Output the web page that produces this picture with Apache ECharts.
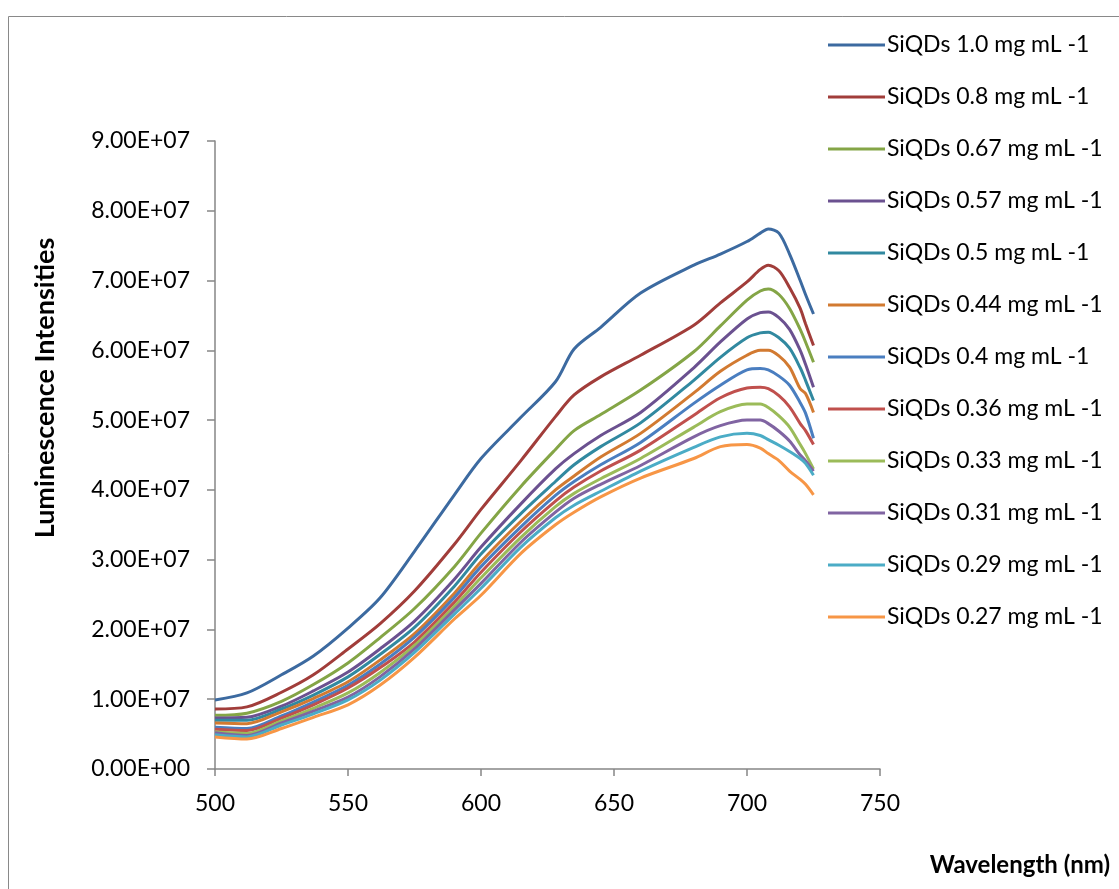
<!DOCTYPE html>
<html>
<head>
<meta charset="utf-8">
<script src="https://cdn.jsdelivr.net/npm/echarts@6/dist/echarts.min.js"></script>
<style>
html,body{margin:0;padding:0;background:#fff;}
#chart{width:1119px;height:889px;}
</style>
</head>
<body>
<div id="chart"></div>
<script>
// Wavelengths (nm)
const wavelengths = [500,512,525,537,550,562,575,590,600,615,628,635,645,660,680,690,700,705,708,712,716,720,722,725];
// Intensities in units of 1e7
const UNIT = 1e7;
const s10  = [0.99,1.09,1.35,1.62,2.02,2.45,3.12,3.93,4.45,5.04,5.55,6.02,6.33,6.82,7.22,7.38,7.56,7.68,7.74,7.68,7.38,7.00,6.80,6.52];
const s08  = [0.86,0.89,1.10,1.35,1.72,2.08,2.55,3.22,3.72,4.42,5.05,5.36,5.62,5.93,6.36,6.68,6.98,7.16,7.22,7.14,6.90,6.60,6.38,6.07];
const s067 = [0.77,0.80,0.97,1.21,1.52,1.88,2.30,2.90,3.38,4.05,4.58,4.85,5.08,5.43,5.98,6.35,6.72,6.85,6.88,6.80,6.60,6.30,6.12,5.83];
const s057 = [0.73,0.74,0.90,1.12,1.39,1.72,2.12,2.72,3.18,3.80,4.30,4.52,4.78,5.11,5.75,6.12,6.45,6.54,6.55,6.47,6.30,6.00,5.80,5.47];
const s05  = [0.70,0.70,0.86,1.06,1.32,1.64,2.03,2.62,3.08,3.66,4.12,4.36,4.62,4.96,5.57,5.90,6.18,6.25,6.26,6.18,6.03,5.75,5.57,5.28];
const s044 = [0.66,0.65,0.82,1.01,1.25,1.56,1.94,2.52,2.97,3.55,4.00,4.20,4.47,4.81,5.39,5.70,5.93,6.00,6.00,5.92,5.76,5.45,5.38,5.11];
const s04  = [0.60,0.58,0.76,0.96,1.20,1.50,1.89,2.46,2.90,3.47,3.92,4.12,4.36,4.68,5.24,5.50,5.72,5.74,5.72,5.63,5.50,5.25,5.10,4.74];
const s036 = [0.57,0.55,0.73,0.92,1.16,1.45,1.82,2.39,2.82,3.40,3.84,4.04,4.27,4.57,5.07,5.32,5.46,5.47,5.45,5.35,5.19,4.95,4.85,4.65];
const s033 = [0.53,0.51,0.69,0.87,1.09,1.38,1.77,2.33,2.74,3.32,3.76,3.95,4.16,4.45,4.90,5.12,5.23,5.23,5.18,5.06,4.90,4.65,4.52,4.30];
const s031 = [0.52,0.48,0.66,0.83,1.03,1.32,1.72,2.28,2.66,3.25,3.68,3.88,4.08,4.35,4.76,4.92,5.00,5.00,4.95,4.84,4.70,4.50,4.42,4.27];
const s029 = [0.49,0.46,0.63,0.79,0.99,1.27,1.67,2.22,2.59,3.18,3.60,3.78,3.98,4.27,4.61,4.76,4.81,4.78,4.72,4.64,4.55,4.45,4.38,4.21];
const s027 = [0.46,0.43,0.58,0.74,0.92,1.20,1.60,2.15,2.49,3.09,3.50,3.68,3.90,4.17,4.45,4.62,4.65,4.60,4.52,4.42,4.27,4.15,4.08,3.93];

const seriesNames = ['SiQDs 1.0 mg mL -1','SiQDs 0.8 mg mL -1','SiQDs 0.67 mg mL -1','SiQDs 0.57 mg mL -1','SiQDs 0.5 mg mL -1','SiQDs 0.44 mg mL -1','SiQDs 0.4 mg mL -1','SiQDs 0.36 mg mL -1','SiQDs 0.33 mg mL -1','SiQDs 0.31 mg mL -1','SiQDs 0.29 mg mL -1','SiQDs 0.27 mg mL -1'];
const seriesValues = [s10,s08,s067,s057,s05,s044,s04,s036,s033,s031,s029,s027];
const colors = ['#3C6AA0','#A13D3A','#84A546','#6B5190','#3189A0','#D27A31','#4A7EC0','#C0504D','#9BBB59','#8064A2','#4BACC6','#F79646'];

function sci(v){
  if (v === 0) return '0.00E+00';
  const e = Math.floor(Math.log10(Math.abs(v)) + 1e-9);
  const m = v / Math.pow(10, e);
  const es = (e < 0 ? '-' : '+') + String(Math.abs(e)).padStart(2,'0');
  return m.toFixed(2) + 'E' + es;
}

const FONT = 'Lato';
const chart = echarts.init(document.getElementById('chart'), null, {renderer:'canvas'});
const series = seriesNames.map((name, i) => ({
  name: name,
  type: 'line',
  smooth: 0.3,
  symbol: 'none',
  lineStyle: {width: 3, color: colors[i]},
  itemStyle: {color: colors[i]},
  data: wavelengths.map((w, k) => [w, seriesValues[i][k] * UNIT]),
  animation: false
}));

chart.setOption({
  animation: false,
  color: colors,
  grid: {left: 215, right: 239, top: 141, bottom: 120, containLabel: false},
  xAxis: {
    type: 'value', min: 500, max: 750, interval: 50,
    axisLine: {show: true, lineStyle: {color: '#868686', width: 1.5}},
    axisTick: {show: true, length: 7, lineStyle: {color: '#868686', width: 1.5}},
    axisLabel: {color: '#000', fontSize: 23, fontFamily: FONT, margin: 23},
    splitLine: {show: false}
  },
  yAxis: {
    type: 'value', min: 0, max: 9e7, interval: 1e7,
    axisLine: {show: true, lineStyle: {color: '#868686', width: 1.5}},
    axisTick: {show: true, length: 8, lineStyle: {color: '#868686', width: 1.5}},
    axisLabel: {color: '#000', fontSize: 23, fontFamily: FONT, margin: 25, formatter: sci},
    splitLine: {show: false}
  },
  legend: {
    orient: 'vertical',
    left: 828, top: 33, padding: 0,
    itemWidth: 57, itemHeight: 3,
    itemGap: 28,
    icon: 'rect',
    textStyle: {color: '#000', fontSize: 23, fontFamily: FONT, lineHeight: 24, padding: [0,0,0,-3]},
    data: seriesNames
  },
  graphic: [
    {type: 'rect', shape: {x: 8.5, y: 16.5, width: 1300, height: 1000}, style: {fill: 'none', stroke: '#898989', lineWidth: 1}, silent: true, z: -1},
    {type: 'text', x: 45, y: 388, rotation: Math.PI/2, style: {text: 'Luminescence Intensities', font: 'bold 27px Lato', fill: '#000', textAlign: 'center', textVerticalAlign: 'middle'}},
    {type: 'text', x: 1110, y: 865, style: {text: 'Wavelength (nm)', font: 'bold 24px Lato', fill: '#000', textAlign: 'right', textVerticalAlign: 'middle'}}
  ],
  series: series
});
</script>
</body>
</html>
